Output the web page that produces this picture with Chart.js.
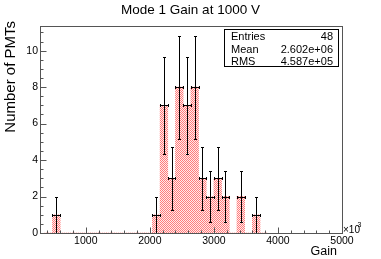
<!DOCTYPE html>
<html>
<head>
<meta charset="utf-8">
<script src="https://cdn.jsdelivr.net/npm/chart.js@4.4.1/dist/chart.umd.min.js"></script>
<style>
  html, body { margin: 0; padding: 0; background: #fff; }
  #c { display: block; }
</style>
</head>
<body>
<canvas id="c" width="381" height="259"></canvas>
<script>
// ---- data ----
const chartTitle = 'Mode 1 Gain at 1000 V';
const xTitle = 'Gain';
const yTitle = 'Number of PMTs';
const binCenters = [420, 540, 660, 780, 900, 1020, 1140, 1260, 1380, 1500, 1620, 1740, 1860, 1980,
                    2100, 2220, 2340, 2460, 2580, 2700, 2820, 2940, 3060, 3180, 3300, 3420, 3540, 3660, 3780];
const counts =     [0, 1, 0, 0, 0, 0, 0, 0, 0, 0, 0, 0, 0, 0,
                    1, 7, 3, 8, 7, 8, 3, 2, 3, 2, 0, 2, 0, 1, 0];
const errors =     [0, 1, 0, 0, 0, 0, 0, 0, 0, 0, 0, 0, 0, 0,
                    1, 2.646, 1.732, 2.828, 2.646, 2.828, 1.732, 1.414, 1.732, 1.414, 0, 1.414, 0, 1, 0];
const xTickValues = [1000, 2000, 3000, 4000, 5000];
const xTickLabels = ['1000', '2000', '3000', '4000', '5000'];
const yTickValues = [0, 2, 4, 6, 8, 10];
const yTickLabels = ['0', '2', '4', '6', '8', '10'];
const statsLabels = ['Entries', 'Mean', 'RMS'];
const statsValues = ['48', '2.602e+06', '4.587e+05'];
const xMin = 285, xMax = 5000, yMin = 0, yMax = 11.35;

const FONT = '"Liberation Sans", Arial, Helvetica, sans-serif';

// hatch-like fill pattern
function makePattern() {
  const p = document.createElement('canvas');
  p.width = 2; p.height = 2;
  const g = p.getContext('2d');
  g.fillStyle = '#ffeaea';
  g.fillRect(0, 0, 2, 2);
  g.fillStyle = '#ff7c7c';
  g.fillRect(0, 0, 1, 1);
  g.fillRect(1, 1, 1, 1);
  return document.getElementById('c').getContext('2d').createPattern(p, 'repeat');
}

const rootDecor = {
  id: 'rootDecor',
  afterDatasetsDraw(chart) {
    const ctx = chart.ctx;
    const xs = chart.scales.x, ys = chart.scales.y;
    const a = chart.chartArea;
    ctx.save();
    // error bars
    ctx.strokeStyle = '#000';
    ctx.lineWidth = 1;
    const halfW = (xs.getPixelForValue(binCenters[1]) - xs.getPixelForValue(binCenters[0])) / 2;
    for (let i = 0; i < binCenters.length; i++) {
      if (counts[i] <= 0) continue;
      const cx = Math.round(xs.getPixelForValue(binCenters[i])) + 0.5;
      const cy = Math.round(ys.getPixelForValue(counts[i])) + 0.5;
      const yt = Math.round(ys.getPixelForValue(counts[i] + errors[i])) + 0.5;
      const yb = Math.round(ys.getPixelForValue(counts[i] - errors[i])) + 0.5;
      const xl = Math.round(xs.getPixelForValue(binCenters[i]) - halfW) + 0.5;
      const xr = Math.round(xs.getPixelForValue(binCenters[i]) + halfW) + 0.5;
      ctx.beginPath();
      ctx.moveTo(cx, yt); ctx.lineTo(cx, Math.min(yb, a.bottom));
      ctx.moveTo(xl, cy); ctx.lineTo(xr, cy);
      ctx.moveTo(cx - 1.5, yt); ctx.lineTo(cx + 1.5, yt);
      if (yb < a.bottom) { ctx.moveTo(cx - 1.5, yb); ctx.lineTo(cx + 1.5, yb); }
      ctx.moveTo(xl, cy - 1.5); ctx.lineTo(xl, cy + 1.5);
      ctx.moveTo(xr, cy - 1.5); ctx.lineTo(xr, cy + 1.5);
      ctx.stroke();
    }
    ctx.restore();
  },
  afterDraw(chart) {
    const ctx = chart.ctx;
    const xs = chart.scales.x, ys = chart.scales.y;
    const a = chart.chartArea;
    ctx.save();
    // frame
    ctx.strokeStyle = '#555';
    ctx.lineWidth = 1;
    const L = Math.round(a.left) + 0.5, R = Math.round(a.right) + 0.5;
    const T = Math.round(a.top) + 0.5, B = Math.round(a.bottom) + 0.5;
    ctx.strokeRect(L, T, R - L, B - T);
    // x ticks (inside)
    ctx.beginPath();
    for (let v = 400; v <= xMax; v += 200) {
      const px = Math.round(xs.getPixelForValue(v)) + 0.5;
      const len = (v % 1000 === 0) ? 6 : 3;
      ctx.moveTo(px, B); ctx.lineTo(px, B - len);
    }
    // y ticks (inside)
    for (let v = 0; v <= yMax; v += 0.5) {
      const py = Math.round(ys.getPixelForValue(v)) + 0.5;
      const len = (v % 2 === 0) ? 6 : 3;
      ctx.moveTo(L, py); ctx.lineTo(L + len, py);
    }
    ctx.stroke();

    // axis titles
    ctx.fillStyle = '#000';
    ctx.font = '12.5px ' + FONT;
    ctx.textAlign = 'right';
    ctx.textBaseline = 'alphabetic';
    ctx.fillText(xTitle, 337, 254.5);
    ctx.save();
    ctx.translate(15, 21);
    ctx.rotate(-Math.PI / 2);
    ctx.font = '15px ' + FONT;
    ctx.textAlign = 'right';
    ctx.fillText(yTitle, 0, 0);
    ctx.restore();

    // x10^3
    ctx.textAlign = 'left';
    ctx.font = '10px ' + FONT;
    ctx.fillText('\u00d710', 343, 232.5);
    ctx.font = '7px ' + FONT;
    ctx.fillText('3', 357.5, 227);

    // stats box
    ctx.fillStyle = '#fff';
    ctx.fillRect(224.5, 29.5, 114, 37);
    ctx.strokeStyle = '#000';
    ctx.strokeRect(224.5, 29.5, 114, 37);
    ctx.fillStyle = '#000';
    ctx.font = '11px ' + FONT;
    const base = [40, 52.5, 65];
    for (let i = 0; i < statsLabels.length; i++) {
      ctx.textAlign = 'left';
      ctx.fillText(statsLabels[i], 231, base[i]);
      ctx.textAlign = 'right';
      ctx.fillText(statsValues[i], 333, base[i]);
    }
    ctx.restore();
  }
};

new Chart(document.getElementById('c'), {
  type: 'bar',
  data: {
    datasets: [{
      label: 'PMTs',
      data: binCenters.map((x, i) => ({ x: x, y: counts[i] })),
      backgroundColor: makePattern(),
      borderWidth: 0,
      barPercentage: 1.0,
      categoryPercentage: 1.0
    }]
  },
  options: {
    responsive: false,
    animation: false,
    devicePixelRatio: 1,
    layout: { padding: 0 },
    plugins: {
      legend: { display: false },
      tooltip: { enabled: false },
      title: {
        display: true,
        text: chartTitle,
        color: '#000',
        font: { family: FONT, size: 13.5, weight: 'normal', lineHeight: 1.2 },
        padding: { top: 1.9, bottom: 7.9 }
      }
    },
    scales: {
      x: {
        type: 'linear',
        min: xMin, max: xMax,
        offset: false,
        grid: { display: false, drawTicks: false },
        border: { display: false },
        afterBuildTicks: (s) => { s.ticks = xTickValues.map(v => ({ value: v })); },
        afterFit: (s) => { s.height = 26; },
        ticks: {
          color: '#000',
          padding: 2,
          maxRotation: 0,
          autoSkip: false,
          font: { family: FONT, size: 10.5 },
          callback: (v) => { const i = xTickValues.indexOf(v); return i >= 0 ? xTickLabels[i] : ''; }
        }
      },
      y: {
        min: yMin, max: yMax,
        grid: { display: false, drawTicks: false },
        border: { display: false },
        afterBuildTicks: (s) => { s.ticks = yTickValues.map(v => ({ value: v })); },
        afterFit: (s) => { s.width = 40; },
        ticks: {
          color: '#000',
          padding: 2,
          autoSkip: false,
          font: { family: FONT, size: 10.5 },
          callback: (v) => { const i = yTickValues.indexOf(v); return i >= 0 ? yTickLabels[i] : ''; }
        }
      },
      yRight: {
        position: 'right',
        min: yMin, max: yMax,
        grid: { display: false, drawTicks: false },
        border: { display: false },
        ticks: { display: false },
        afterFit: (s) => { s.width = 39; }
      }
    }
  },
  plugins: [rootDecor]
});
</script>
</body>
</html>
